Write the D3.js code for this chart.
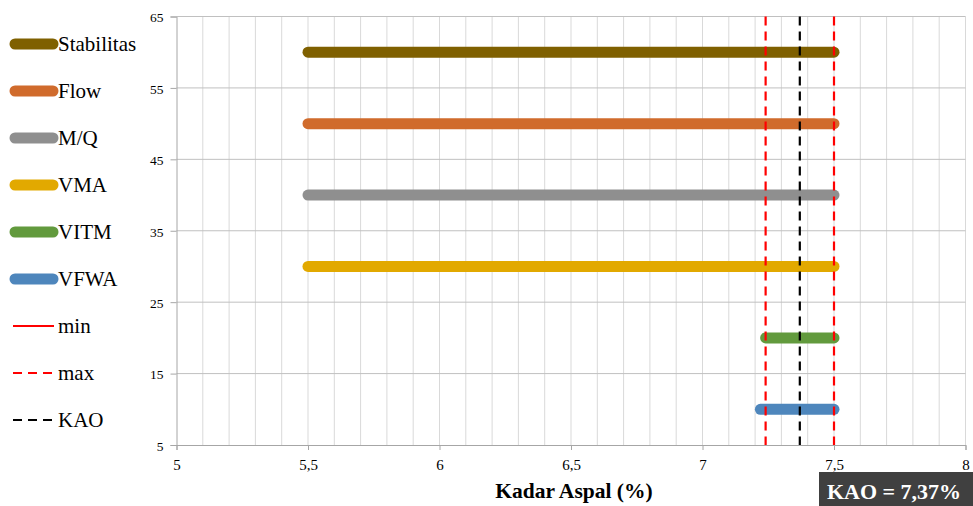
<!DOCTYPE html>
<html>
<head>
<meta charset="utf-8">
<script src="https://cdn.jsdelivr.net/npm/d3@7"></script>
<style>
  html, body { margin: 0; padding: 0; background: #fff; }
  svg { display: block; }
</style>
</head>
<body>
<svg id="chart" width="973" height="506"></svg>
<script>
// Range of asphalt content satisfying each Marshall criterion
const seriesNames = ["Stabilitas", "Flow", "M/Q", "VMA", "VITM", "VFWA"];
const seriesLevel = [60, 50, 40, 30, 20, 10];
const rangeStart = [5.5, 5.5, 5.5, 5.5, 7.24, 7.22];
const rangeEnd = [7.5, 7.5, 7.5, 7.5, 7.5, 7.5];
const seriesColors = ["#7F6000", "#D06B2C", "#8F8F8F", "#E2A900", "#629A3D", "#4E86BC"];

// Limits and optimum asphalt content
const maxLimits = [7.24, 7.5];
const kaoValue = 7.37;

const xTicks = [5, 5.5, 6, 6.5, 7, 7.5, 8];
const yTicks = [5, 15, 25, 35, 45, 55, 65];
const xLabels = ["5", "5,5", "6", "6,5", "7", "7,5", "8"];

const svg = d3.select("#chart");
const serif = '"Liberation Serif"';

const x = d3.scaleLinear().domain([5, 8]).range([176.5, 965.5]);
const y = d3.scaleLinear().domain([5, 65]).range([445, 16.5]);

// Minor vertical gridlines every 0.1
const minor = d3.range(51, 81).map(v => v / 10);
svg.append("g").selectAll("line").data(minor).join("line")
  .attr("x1", d => x(d)).attr("x2", d => x(d))
  .attr("y1", y(5)).attr("y2", y(65))
  .attr("stroke", "#d9d9d9").attr("stroke-width", 1);

// Horizontal gridlines
svg.append("g").selectAll("line").data(yTicks.slice(1)).join("line")
  .attr("x1", x(5)).attr("x2", x(8))
  .attr("y1", d => y(d)).attr("y2", d => y(d))
  .attr("stroke", "#c0c0c0").attr("stroke-width", 1);

// Axes
const xAxis = svg.append("g").attr("transform", `translate(0,${y(5)})`)
  .call(d3.axisBottom(x).tickValues(xTicks).tickSize(5).tickFormat((d, i) => xLabels[i]));
const yAxis = svg.append("g").attr("transform", `translate(${x(5)},0)`)
  .call(d3.axisLeft(y).tickValues(yTicks).tickSize(6).tickFormat(d => d));
[xAxis, yAxis].forEach(g => {
  g.attr("font-family", null);
  g.select(".domain").attr("stroke", "#a6a6a6");
  g.selectAll(".tick line").attr("stroke", "#a6a6a6");
  g.selectAll("text").attr("fill", "#000").style("font-family", serif);
});
xAxis.selectAll("text").style("font-size", "15px").attr("dy", "1.15em");
yAxis.selectAll("text").style("font-size", "13.5px").attr("x", -13).attr("dy", "0.4em");

// Criterion range bars
svg.append("g").selectAll("line").data(seriesNames).join("line")
  .attr("x1", (d, i) => x(rangeStart[i])).attr("x2", (d, i) => x(rangeEnd[i]))
  .attr("y1", (d, i) => y(seriesLevel[i])).attr("y2", (d, i) => y(seriesLevel[i]))
  .attr("stroke", (d, i) => seriesColors[i])
  .attr("stroke-width", 11).attr("stroke-linecap", "round");

// Limit and KAO vertical lines
svg.append("g").selectAll("line").data(maxLimits).join("line")
  .attr("x1", d => x(d)).attr("x2", d => x(d))
  .attr("y1", y(65)).attr("y2", y(5))
  .attr("stroke", "#FF0000").attr("stroke-width", 2.2).attr("stroke-dasharray", "9,6");
svg.append("line")
  .attr("x1", x(kaoValue)).attr("x2", x(kaoValue))
  .attr("y1", y(65)).attr("y2", y(5))
  .attr("stroke", "#000").attr("stroke-width", 2.2).attr("stroke-dasharray", "9,6");

// Legend
const legendItems = seriesNames.map((n, i) => ({ name: n, color: seriesColors[i], type: "bar" }))
  .concat([
    { name: "min", color: "#FF0000", type: "solid" },
    { name: "max", color: "#FF0000", type: "dash" },
    { name: "KAO", color: "#000", type: "dash" }
  ]);
const leg = svg.append("g").selectAll("g").data(legendItems).join("g")
  .attr("transform", (d, i) => `translate(0,${44 + i * 47})`);
leg.append("line")
  .attr("x1", d => d.type === "bar" ? 15 : 13)
  .attr("x2", d => d.type === "bar" ? 53 : 54)
  .attr("stroke", d => d.color)
  .attr("stroke-width", d => d.type === "bar" ? 11 : 2.2)
  .attr("stroke-linecap", d => d.type === "bar" ? "round" : "butt")
  .attr("stroke-dasharray", d => d.type === "dash" ? "9,6" : null);
leg.append("text")
  .attr("x", 58).attr("y", 7)
  .style("font-family", serif).style("font-size", "21px")
  .text(d => d.name);

// Axis title
svg.append("text")
  .attr("x", 574).attr("y", 498)
  .attr("text-anchor", "middle")
  .style("font-family", serif).style("font-size", "21.5px").style("font-weight", "bold")
  .text("Kadar Aspal (%)");

// KAO result box
svg.append("rect").attr("x", 819).attr("y", 472).attr("width", 154).attr("height", 34).attr("fill", "#404040");
svg.append("text")
  .attr("x", 894).attr("y", 499).attr("text-anchor", "middle")
  .style("font-family", serif).style("font-size", "22px").style("font-weight", "bold")
  .attr("fill", "#fff")
  .text("KAO = " + String(kaoValue).replace(".", ",") + "%");
</script>
</body>
</html>
